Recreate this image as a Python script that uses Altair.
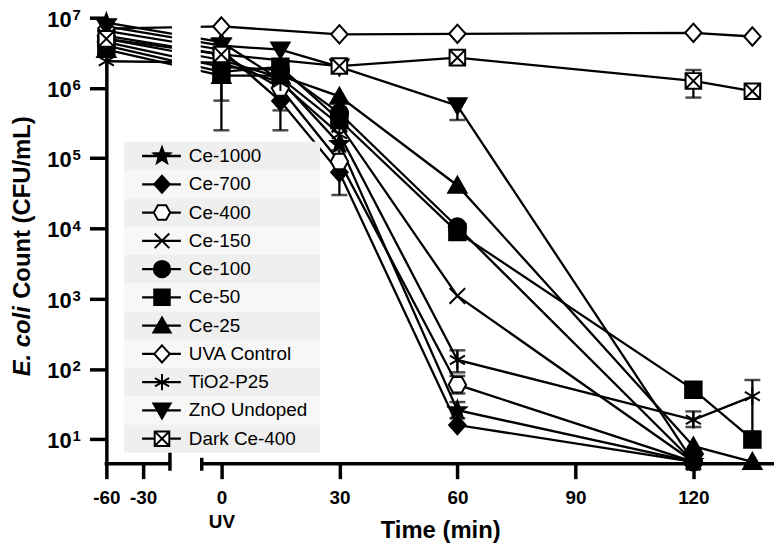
import math
import altair as alt
import pandas as pd

# ---------------- data ----------------
names = ["Ce-1000", "Ce-700", "Ce-400", "Ce-150", "Ce-100", "Ce-50", "Ce-25",
         "UVA Control", "TiO2-P25", "ZnO Undoped", "Dark Ce-400"]

t_main = [-60, 0, 15, 30, 60, 120]
t_ext = [-60, 0, 15, 30, 60, 120, 135]
t_ctrl = [-60, 0, 30, 60, 120, 135]

ce1000 = [8.5e6, 4.5e6, 1.3e6, 1.6e5, 26, 4.8]
ce700 = [6.5e6, 3.5e6, 6.5e5, 6.3e4, 16, 4.8]
ce400 = [5.5e6, 3.0e6, 1.0e6, 9.0e4, 60, 4.8]
ce150 = [5.0e6, 2.5e6, 1.4e6, 3.0e5, 1.1e3, 4.8]
ce100 = [4.5e6, 2.0e6, 1.8e6, 4.4e5, 1.05e4, 4.8]
ce50 = [4.0e6, 1.7e6, 2.0e6, 3.5e5, 8.9e3, 51, 10]
ce25 = [3.5e6, 1.5e6, 1.5e6, 7.6e5, 4.1e4, 8, 4.8]
uva = [7.0e6, 7.5e6, 5.8e6, 5.9e6, 6.1e6, 5.4e6]
tio2 = [2.4e6, 2.3e6, 1.2e6, 2.2e5, 135, 19, 41]
zno = [7.5e6, 4.0e6, 3.5e6, 2.0e6, 5.6e5, 4.8]
dark = [5.0e6, 3.0e6, 2.05e6, 2.7e6, 1.26e6, 9.0e5]

series_times = [t_main, t_main, t_main, t_main, t_main, t_ext, t_ext,
                t_ctrl, t_ext, t_main, t_ctrl]
series_vals = [ce1000, ce700, ce400, ce150, ce100, ce50, ce25, uva, tio2, zno, dark]

eb_series = ["Ce-25", "Ce-100", "Ce-700", "Ce-400", "Ce-700", "ZnO Undoped",
             "TiO2-P25", "Ce-400", "Ce-1000", "TiO2-P25", "TiO2-P25", "Dark Ce-400"]
eb_time = [0, 0, 15, 15, 30, 60, 60, 60, 60, 120, 135, 120]
eb_lo = [2.5e5, 6.6e5, 2.5e5, 4.8e5, 3.0e4, 3.5e5, 90, 45, 20, 15, 12, 7.3e5]
eb_hi = [2.5e6, 3.2e6, 1.6e6, 1.5e6, 1.3e5, 6.5e5, 185, 80, 34, 25, 70, 1.8e6]

x_ticks = [-60, -30, 0, 30, 60, 90, 120]
y_ticks = [10, 100, 1e3, 1e4, 1e5, 1e6, 1e7]

rows = []
for n, ts, vs in zip(names, series_times, series_vals):
    for t, v in zip(ts, vs):
        rows.append({"series": n, "time": t, "cfu": v})
df = pd.DataFrame(rows)
eb = pd.DataFrame({"series": eb_series, "time": eb_time, "lo": eb_lo, "hi": eb_hi})
leg = pd.DataFrame({"series": names, "row": list(range(len(names)))})
ytk = pd.DataFrame({"v": y_ticks, "e": [str(round(math.log10(v))) for v in y_ticks]})
one = pd.DataFrame({"a": [0]})

# ---------------- styling ----------------
FONT = "Liberation Sans"
W, H = 672, 449
XL, XR = 64, 96  # pixel positions of the axis break


def star_path(R=1.0, r=0.42):
    pts = []
    for k in range(10):
        ang = math.radians(-90 + 36 * k)
        rad = R if k % 2 == 0 else r
        pts.append(f"{rad * math.cos(ang):.3f},{rad * math.sin(ang):.3f}")
    return "M" + "L".join(pts) + "Z"


diamond = "M0,-1L0.9,0L0,1L-0.9,0Z"
shapes = [
    star_path(),
    diamond,
    "M-0.95,0L-0.48,-0.85L0.48,-0.85L0.95,0L0.48,0.85L-0.48,0.85Z",
    "M-0.85,-0.85L0.85,0.85M-0.85,0.85L0.85,-0.85",
    "M0.95,0A0.95,0.95,0,1,1,-0.95,0A0.95,0.95,0,1,1,0.95,0Z",
    "M-0.9,-0.9H0.9V0.9H-0.9Z",
    "M0,-0.95L1,0.8L-1,0.8Z",
    diamond,
    "M0,-0.95V0.95M-0.82,-0.48L0.82,0.48M-0.82,0.48L0.82,-0.48",
    "M-1,-0.8L1,-0.8L0,0.95Z",
    "M-0.85,-0.85H0.85V0.85H-0.85ZM-0.85,-0.85L0.85,0.85M-0.85,0.85L0.85,-0.85",
]
fills = ["black", "black", "white", "black", "black", "black", "black",
         "white", "black", "black", "white"]

xs = alt.Scale(domain=[-60, -8.1, -5, 140.5], range=[0, XL, XR, W], nice=False, zero=False)
ys = alt.Scale(type="log", domain=[4.5, 1e7], nice=False)

x_axis = alt.Axis(
    values=x_ticks, domain=False, grid=False, tickSize=15, tickWidth=3.5, tickColor="black",
    labelFont=FONT, labelFontWeight="bold", labelFontSize=19, labelColor="black",
    labelPadding=10, labelFlush=False, labelOverlap=False, labelLineHeight=24,
    labelExpr="datum.value == 0 ? ['0', 'UV'] : (datum.value < 0 ? '-' + abs(datum.value) : '' + datum.value)",
    title="Time (min)", titleFont=FONT, titleFontSize=24, titleFontWeight="bold",
    titleColor="black", titleY=67, titleBaseline="middle",
)
y_axis = alt.Axis(
    values=y_ticks, grid=False, domainWidth=3.5, domainColor="black",
    tickSize=17, tickWidth=3.5, tickColor="black", labels=False, title=None,
)

X = alt.X("time:Q", scale=xs, axis=x_axis)
shape_enc = alt.Shape("series:N", scale=alt.Scale(domain=names, range=shapes), legend=None)
fill_enc = alt.Fill("series:N", scale=alt.Scale(domain=names, range=fills), legend=None)

lines = alt.Chart(df).mark_line(color="black", strokeWidth=2.3).encode(
    x=X, y=alt.Y("cfu:Q", scale=ys, axis=y_axis), detail="series:N", order="time:Q")

eb_rule = alt.Chart(eb).mark_rule(color="black", strokeWidth=2.3).encode(
    x=X, y=alt.Y("lo:Q", scale=ys, axis=y_axis), y2="hi:Q")
cap_lo = alt.Chart(eb).mark_tick(color="black", orient="horizontal", size=16, thickness=2.5).encode(
    x=X, y=alt.Y("lo:Q", scale=ys, axis=y_axis))
cap_hi = alt.Chart(eb).mark_tick(color="black", orient="horizontal", size=16, thickness=2.5).encode(
    x=X, y=alt.Y("hi:Q", scale=ys, axis=y_axis))

points = alt.Chart(df).mark_point(size=340, stroke="black", strokeWidth=2, opacity=1,
                                  fillOpacity=1).encode(
    x=X, y=alt.Y("cfu:Q", scale=ys, axis=y_axis), shape=shape_enc, fill=fill_enc)

# y tick labels: "10" with a superscript exponent
ylab_base = alt.Chart(ytk).mark_text(
    text="10", align="right", baseline="middle", font=FONT, fontSize=22,
    fontWeight="bold", color="black", dy=2).encode(
    x=alt.value(-35), y=alt.Y("v:Q", scale=ys, axis=y_axis))
ylab_exp = alt.Chart(ytk).mark_text(
    align="left", baseline="middle", font=FONT, fontSize=15,
    fontWeight="bold", color="black", dy=-3).encode(
    x=alt.value(-34), y=alt.Y("v:Q", scale=ys, axis=y_axis), text="e:N")

mask = alt.Chart(one).mark_rect(color="white").encode(
    x=alt.value(XL + 2), x2=alt.value(XR - 1), y=alt.value(-16), y2=alt.value(H - 3))
ax_left = alt.Chart(one).mark_rule(color="black", strokeWidth=3.5).encode(
    x=alt.value(-1.75), x2=alt.value(XL), y=alt.value(H))
ax_right = alt.Chart(one).mark_rule(color="black", strokeWidth=3.5).encode(
    x=alt.value(XR), x2=alt.value(W), y=alt.value(H))
brk_left = alt.Chart(one).mark_rule(color="black", strokeWidth=3.5).encode(
    x=alt.value(XL), y=alt.value(H - 12), y2=alt.value(H + 7))
brk_right = alt.Chart(one).mark_rule(color="black", strokeWidth=3.5).encode(
    x=alt.value(XR), y=alt.value(H - 6), y2=alt.value(H + 7))

ytitle_a = alt.Chart(one).mark_text(
    text="E. coli", angle=270, align="left", baseline="middle", font=FONT, fontSize=24,
    fontWeight="bold", fontStyle="italic", color="black").encode(
    x=alt.value(-84), y=alt.value(361))
ytitle_b = alt.Chart(one).mark_text(
    text="Count (CFU/mL)", angle=270, align="left", baseline="middle", font=FONT, fontSize=24,
    fontWeight="bold", color="black").encode(
    x=alt.value(-84), y=alt.value(283))

data_layer = alt.layer(lines, eb_rule, cap_lo, cap_hi, points, ylab_base, ylab_exp, mask,
                       ax_left, ax_right, brk_left, brk_right, ytitle_a, ytitle_b)

LY = alt.Y("row:O", scale=alt.Scale(type="band", domain=list(range(len(names))),
                                     range=[125, 438], paddingInner=0, paddingOuter=0),
           axis=None)
leg_bg = alt.Chart(leg).mark_rect().encode(
    x=alt.value(18), x2=alt.value(215), y=LY,
    fill=alt.condition("datum.row % 2 == 0", alt.value("#efefef"), alt.value("#f7f7f7")))
leg_line = alt.Chart(leg).mark_rule(color="black", strokeWidth=2.3).encode(
    x=alt.value(36), x2=alt.value(75), y=LY)
leg_pt = alt.Chart(leg).mark_point(size=300, stroke="black", strokeWidth=2, opacity=1,
                                   fillOpacity=1).encode(
    x=alt.value(56), y=LY, shape=shape_enc, fill=fill_enc)
leg_txt = alt.Chart(leg).mark_text(align="left", baseline="middle", font=FONT, fontSize=19,
                                   color="black").encode(
    x=alt.value(83), y=LY, text="series:N")
legend_layer = alt.layer(leg_bg, leg_line, leg_pt, leg_txt)

chart = alt.layer(data_layer, legend_layer).resolve_scale(y="independent").properties(
    width=W, height=H,
    autosize=alt.AutoSizeParams(type="none"),
    padding={"left": 99, "top": 8, "right": 0, "bottom": 78},
    background="white",
).configure_view(stroke=None)

chart.save("out.html", embed_options={"renderer": "svg", "actions": False})
